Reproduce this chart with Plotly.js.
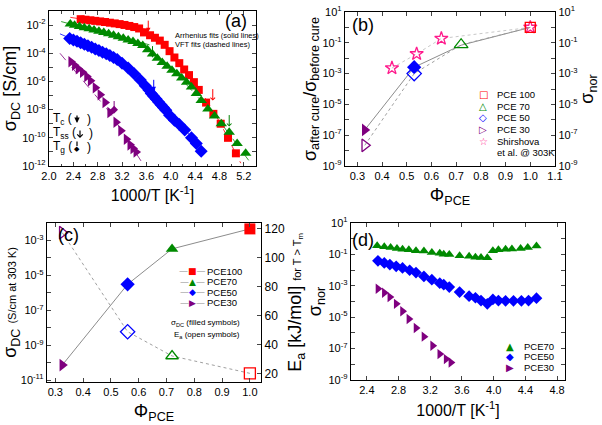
<!DOCTYPE html>
<html><head><meta charset="utf-8">
<script src="https://cdn.plot.ly/plotly-3.0.1.min.js"></script>
<style>body{margin:0;background:#fff}#chart{width:602px;height:425px}</style>
</head><body><div id="chart"></div>
<script>
// ===== Panel (a): 1000/T [1/K] vs log10(sigma_DC [S/cm]) =====
const aRedX   = [2.52,2.60,2.68,2.76,2.84,2.92,3.00,3.08,3.16,3.24,3.32,3.40,3.48,3.56,3.66,3.74,3.82,3.90,3.98,4.06,4.14,4.22,4.30,4.38,4.46,4.58,4.70,4.82,4.94,5.07];
const aRedLog = [-1.58,-1.62,-1.66,-1.70,-1.74,-1.78,-1.83,-1.88,-1.93,-1.99,-2.06,-2.14,-2.24,-2.52,-2.72,-2.90,-3.10,-3.40,-3.85,-4.30,-4.70,-5.15,-5.55,-6.05,-6.60,-7.50,-8.30,-9.00,-10.00,-11.10];
const aGreenX   = [2.35,2.42,2.50,2.58,2.66,2.74,2.82,2.90,2.98,3.06,3.14,3.22,3.30,3.38,3.46,3.54,3.62,3.70,3.78,3.86,3.94,4.02,4.10,4.18,4.26,4.34,4.42,4.50,4.61,4.72,4.83,4.96,5.09,5.23];
const aGreenLog = [-1.93,-2.02,-2.10,-2.18,-2.26,-2.35,-2.44,-2.53,-2.62,-2.72,-2.82,-2.93,-3.05,-3.17,-3.30,-3.45,-3.75,-4.05,-4.35,-4.65,-4.92,-5.20,-5.45,-5.75,-6.05,-6.40,-6.85,-7.35,-7.95,-8.45,-9.00,-9.60,-10.40,-11.10];
const aBlueX   = [2.34,2.40,2.46,2.52,2.58,2.64,2.70,2.76,2.82,2.88,2.94,3.00,3.06,3.12,3.20,3.30,3.40,3.50,3.58,3.64,3.68,3.72,3.76,3.80,3.84,3.88,3.92,3.98,4.06,4.14,4.23,4.34,4.42,4.50];
const aBlueLog = [-2.95,-3.05,-3.15,-3.26,-3.36,-3.47,-3.58,-3.69,-3.80,-3.92,-4.04,-4.16,-4.30,-4.45,-4.70,-5.05,-5.45,-5.90,-6.30,-6.60,-6.85,-7.05,-7.25,-7.45,-7.65,-7.85,-8.05,-8.40,-8.75,-9.05,-9.45,-10.00,-10.40,-10.95];
const aPurpleX   = [2.36,2.42,2.48,2.55,2.62,2.68,2.76,2.84,2.92,3.00,3.10,3.18,3.27,3.33,3.38,3.43];
const aPurpleLog = [-4.60,-4.85,-5.10,-5.35,-5.65,-5.95,-6.45,-6.95,-7.50,-8.20,-8.90,-9.50,-10.10,-10.50,-10.75,-11.00];
// fit lines (Arrhenius solid, VFT dashed)
const fitRedArrX = [2.35,3.60],  fitRedArrLog = [-1.45,-2.30];
const fitRedVftX = [3.60,3.90,4.20,4.50,4.80,5.15], fitRedVftLog = [-2.45,-3.30,-4.90,-6.70,-8.85,-11.80];
const fitGreenArrX = [2.20,3.65], fitGreenArrLog = [-1.75,-3.40];
const fitGreenVftX = [3.60,4.00,4.40,4.80,5.28], fitGreenVftLog = [-3.60,-5.00,-6.90,-8.80,-11.60];
const fitBlueVftX = [2.18,2.50,3.00,3.50,3.90,4.30,4.62], fitBlueVftLog = [-2.62,-3.20,-4.16,-5.90,-7.95,-9.75,-11.50];
const fitBlueArrX = [3.52,3.78], fitBlueArrLog = [-5.95,-6.95];
const fitPurpleX = [2.18,3.00,3.55], fitPurpleLog = [-4.00,-8.20,-11.90];
// characteristic temperatures (arrows)
const arrX    = [3.63, 4.69, 3.70, 4.96, 3.72];
const arrLog  = [-2.50, -7.36, -4.31, -9.20, -6.70];
const arrKind = ['c', 'ss', 'c', 'ss', 'c'];
const arrCol  = ['red', 'red', 'green', 'green', 'blue'];
const tgX = [3.07], tgLog = [-8.0];
const aYTickVals = [1e-12,1e-10,1e-8,1e-6,1e-4,1e-2];
const aYTickText = ['10<sup>-12</sup>','10<sup>-10</sup>','10<sup>-8</sup>','10<sup>-6</sup>','10<sup>-4</sup>','10<sup>-2</sup>'];
const aYMinor    = [1e-11,1e-9,1e-7,1e-5,1e-3,1e-1];

// ===== Panel (b): Phi_PCE vs normalized conductivity =====
const bFilledPhi = [0.33, 0.53];
const bFilledSig = [2.2e-7, 2.6e-3];
const bLinePhi   = [0.33, 0.53, 0.72, 1.00];
const bLineSig   = [2.2e-7, 2.6e-3, 0.07, 1.0];
const bOpenPhi   = [0.33, 0.53, 0.72, 1.00];
const bOpenSig   = [2.2e-8, 1.0e-3, 0.075, 1.0];
const bStarPhi   = [0.44, 0.54, 0.64, 1.00];
const bStarSig   = [2.3e-3, 1.9e-2, 0.19, 1.0];
const bYTickVals = [1e-9,1e-7,1e-5,1e-3,1e-1,10];
const bYTickText = ['10<sup>-9</sup>','10<sup>-7</sup>','10<sup>-5</sup>','10<sup>-3</sup>','10<sup>-1</sup>','10<sup>1</sup>'];
const bYMinor    = [1e-8,1e-6,1e-4,1e-2,1];

// ===== Panel (c): Phi_PCE vs sigma_DC at 303 K (filled) and Ea (open) =====
const cPhi   = [0.325, 0.56, 0.72, 1.00];
const cSigDC = [7.4e-11, 3.1e-6, 3.3e-4, 4.6e-3];
const cEa    = [117.3, 48.8, 32.0, 20.0];
const cYTickVals = [1e-11,1e-9,1e-7,1e-5,1e-3];
const cYTickText = ['10<sup>-11</sup>','10<sup>-9</sup>','10<sup>-7</sup>','10<sup>-5</sup>','10<sup>-3</sup>'];
const cYMinor    = [1e-10,1e-8,1e-6,1e-4,1e-2];

// ===== Panel (d): 1000/T vs sigma_nor =====
const dGreenX   = [2.53,2.62,2.70,2.78,2.85,2.93,3.02,3.12,3.22,3.32,3.37,3.44,3.57,3.69,3.77,3.84,3.92,3.99,4.06,4.15,4.23,4.34,4.43,4.54];
const dGreenLog = [-0.45,-0.52,-0.56,-0.62,-0.67,-0.71,-0.77,-0.79,-0.88,-0.92,-0.99,-1.00,-1.09,-1.12,-1.18,-1.20,-1.22,-0.77,-0.71,-0.67,-0.65,-0.62,-0.56,-0.47];
const dBlueX   = [2.54,2.62,2.69,2.77,2.85,2.94,3.02,3.12,3.22,3.32,3.37,3.44,3.57,3.69,3.77,3.84,3.92,3.99,4.06,4.15,4.25,4.35,4.44,4.54];
const dBlueLog = [-1.41,-1.54,-1.65,-1.76,-1.86,-2.01,-2.16,-2.40,-2.61,-2.83,-2.93,-3.08,-3.40,-3.66,-3.76,-3.94,-4.15,-3.87,-3.94,-3.96,-3.96,-3.96,-3.94,-3.79];
const dPurpleX   = [2.54,2.62,2.69,2.77,2.85,2.93,3.02,3.12,3.23,3.32,3.40,3.46];
const dPurpleLog = [-3.19,-3.44,-3.72,-4.15,-4.62,-5.11,-5.69,-6.24,-6.82,-7.35,-7.67,-7.89];
const dYTickVals = bYTickVals, dYTickText = bYTickText, dYMinor = bYMinor;

// ===== styling =====
const RED='#ff0000', GREEN='#008a00', BLUE='#0000ff', PURPLE='#7f007f', PINK='#ff1a8c', GREY='#8c8c8c';
const W=602, H=425;
const xd = (l,r) => [l/W, r/W];
const yd = (t,b) => [1-b/H, 1-t/H];
const p10 = a => a.map(v => Math.pow(10, v));
const FONT = 'Arial, "Liberation Sans", sans-serif';
const base = {ticks:'inside', ticklen:4, tickwidth:1, showline:true, linewidth:1.2, linecolor:'#000',
  showgrid:false, zeroline:false, tickfont:{size:11, family:FONT, color:'#000'}};
const ax = (o) => Object.assign({}, base, o);
const minorArr = (v) => ({tickmode:'array', tickvals:v, ticks:'inside', ticklen:4, tickwidth:1, showgrid:false});

const traces = [];
function sc(x, y, xa, ya, o){ traces.push(Object.assign({x:x, y:y, xaxis:xa, yaxis:ya, type:'scatter', showlegend:false, hoverinfo:'skip'}, o)); }
// (a) fit lines
sc(fitRedArrX, p10(fitRedArrLog), 'x','y', {mode:'lines', line:{color:RED, width:0.8}});
sc(fitRedVftX, p10(fitRedVftLog), 'x','y', {mode:'lines', line:{color:RED, width:0.8, dash:'dash'}});
sc(fitGreenArrX, p10(fitGreenArrLog), 'x','y', {mode:'lines', line:{color:GREEN, width:0.8}});
sc(fitGreenVftX, p10(fitGreenVftLog), 'x','y', {mode:'lines', line:{color:GREEN, width:0.8, dash:'dash'}});
sc(fitBlueVftX, p10(fitBlueVftLog), 'x','y', {mode:'lines', line:{color:BLUE, width:0.8, dash:'dash'}});
sc(fitBlueArrX, p10(fitBlueArrLog), 'x','y', {mode:'lines', line:{color:'#5f8cff', width:1}});
sc(fitPurpleX, p10(fitPurpleLog), 'x','y', {mode:'lines', line:{color:PURPLE, width:0.8, dash:'dash'}});
// (a) data
sc(aRedX, p10(aRedLog), 'x','y', {mode:'markers', marker:{symbol:'square', size:8, color:RED}});
sc(aGreenX, p10(aGreenLog), 'x','y', {mode:'markers', marker:{symbol:'triangle-up', size:10, color:GREEN}});
sc(aBlueX, p10(aBlueLog), 'x','y', {mode:'markers', marker:{symbol:'diamond', size:10, color:BLUE}});
sc(aPurpleX, p10(aPurpleLog), 'x','y', {mode:'markers', marker:{symbol:'triangle-right', size:10, color:PURPLE}});
sc(tgX, p10(tgLog), 'x','y', {mode:'markers', marker:{symbol:'diamond', size:6, color:PURPLE}});

// (b)
sc(bStarPhi, bStarSig, 'x2','y2', {mode:'lines', line:{color:'#c8c8c8', width:1, dash:'dot'}});
sc(bLinePhi, bLineSig, 'x2','y2', {mode:'lines', line:{color:GREY, width:1}});
sc(bOpenPhi, bOpenSig, 'x2','y5', {mode:'lines', line:{color:'#a0a0a0', width:1, dash:'dot'}});
sc([bOpenPhi[3]], [bOpenSig[3]], 'x2','y5', {mode:'markers', marker:{symbol:'square-open', size:10, color:RED, line:{width:1.3}}});
sc([bOpenPhi[2]], [bOpenSig[2]], 'x2','y5', {mode:'markers', marker:{symbol:'triangle-up-open', size:12, color:GREEN, line:{width:1.3}}});
sc([bOpenPhi[1]], [bOpenSig[1]], 'x2','y5', {mode:'markers', marker:{symbol:'diamond-open', size:11, color:BLUE, line:{width:1.3}}});
sc([bOpenPhi[0]], [bOpenSig[0]], 'x2','y5', {mode:'markers', marker:{symbol:'triangle-right-open', size:11, color:PURPLE, line:{width:1.3}}});
sc([bFilledPhi[1]], [bFilledSig[1]], 'x2','y2', {mode:'markers', marker:{symbol:'diamond', size:11, color:BLUE}});
sc([bFilledPhi[0]], [bFilledSig[0]], 'x2','y2', {mode:'markers', marker:{symbol:'triangle-right', size:11, color:PURPLE}});
sc(bStarPhi, bStarSig, 'x2','y2', {mode:'markers', marker:{symbol:'star-open', size:10, color:PINK, line:{width:1.3}}});

// (c)
sc(cPhi, cSigDC, 'x3','y3', {mode:'lines', line:{color:GREY, width:1}});
sc(cPhi, cEa, 'x3','y6', {mode:'lines', line:{color:'#a0a0a0', width:1, dash:'dot'}});
const cSym = ['triangle-right','diamond','triangle-up','square'];
const cCol = [PURPLE, BLUE, GREEN, RED];
for (let i=0;i<4;i++){
  sc([cPhi[i]], [cSigDC[i]], 'x3','y3', {mode:'markers', marker:{symbol:cSym[i], size:11, color:cCol[i]}});
  sc([cPhi[i]], [cEa[i]], 'x3','y6', {mode:'markers', marker:{symbol:cSym[i]+'-open', size:11, color:cCol[i], line:{width:1.3}}});
}

// (d)
sc(dGreenX, p10(dGreenLog), 'x4','y4', {mode:'markers', marker:{symbol:'triangle-up', size:9, color:GREEN}});
sc(dBlueX, p10(dBlueLog), 'x4','y4', {mode:'markers', marker:{symbol:'diamond', size:9, color:BLUE}});
sc(dPurpleX, p10(dPurpleLog), 'x4','y4', {mode:'markers', marker:{symbol:'triangle-right', size:9, color:PURPLE}});

// ===== annotations =====
const ann = [];
function txt(x, y, t, o){ ann.push(Object.assign({xref:'paper', yref:'paper', x:x/W, y:1-y/H, text:t, showarrow:false,
  font:{family:FONT, size:10, color:'#000'}, xanchor:'left', yanchor:'middle'}, o||{})); }
// arrows on panel (a)
for (let i=0;i<arrX.length;i++){
  ann.push({xref:'x', yref:'y', x:arrX[i], y:arrLog[i], ax:0, ay:-13, showarrow:true,
    arrowhead: arrKind[i]==='c' ? 2 : 4, arrowsize:0.9, arrowwidth:1, arrowcolor:arrCol[i], text:''});
}
ann.push({xref:'x', yref:'y', x:tgX[0], y:tgLog[0]+0.15, ax:0, ay:-8, showarrow:true, arrowhead:0, arrowwidth:1, arrowcolor:PURPLE, text:''});
txt(236, 21, '(a)', {font:{family:FONT, size:18}, xanchor:'center'});
txt(172.5, 35, 'Arrhenius fits (solid lines)', {font:{family:FONT, size:7.5}});
txt(172.5, 45, 'VFT fits (dashed lines)', {font:{family:FONT, size:7.5}});
txt(51, 119, 'T<sub>c</sub> (', {font:{family:FONT, size:12}});
txt(51, 133, 'T<sub>ss</sub> (', {font:{family:FONT, size:12}});
txt(51, 147, 'T<sub>g</sub> (', {font:{family:FONT, size:12}});
txt(85, 119, ')', {font:{family:FONT, size:12}});
txt(87, 133, ')', {font:{family:FONT, size:12}});
txt(85, 147, ')', {font:{family:FONT, size:12}});
ann.push({xref:'paper', yref:'paper', x:77/W, y:1-123/H, ax:0, ay:-9, showarrow:true, arrowhead:2, arrowsize:0.9, arrowwidth:1.2, arrowcolor:'#000', text:''});
ann.push({xref:'paper', yref:'paper', x:80/W, y:1-138/H, ax:0, ay:-9, showarrow:true, arrowhead:4, arrowsize:0.9, arrowwidth:1.2, arrowcolor:'#000', text:''});
ann.push({xref:'paper', yref:'paper', x:77/W, y:1-146/H, ax:0, ay:-6, showarrow:true, arrowhead:0, arrowwidth:1.2, arrowcolor:'#000', text:''});
txt(77, 149, '◆', {font:{family:'DejaVu Sans', size:7}, xanchor:'center'});
// panel (b)
txt(363, 25, '(b)', {font:{family:FONT, size:18}, xanchor:'center'});
const bLegSym = ['□','△','◇','▷','☆'];
const bLegCol = [RED, GREEN, BLUE, PURPLE, PINK];
const bLegTxt = ['PCE 100','PCE 70','PCE 50','PCE 30','Shirshova'];
const bLegY = [95, 106.5, 118, 129.5, 141];
for (let i=0;i<5;i++){
  txt(483, bLegY[i], bLegSym[i], {font:{family:'DejaVu Sans', size:10, color:bLegCol[i]}, xanchor:'center'});
  txt(495, bLegY[i], bLegTxt[i], {font:{family:FONT, size:9.5}});
}
txt(495, 152, 'et al. @ 303K', {font:{family:FONT, size:9.5}});
// panel (c)
txt(68, 235, '(c)', {font:{family:FONT, size:18}, xanchor:'center'});
const cLegSym = ['■','▲','◆','▶'];
const cLegCol = [RED, GREEN, BLUE, PURPLE];
const cLegTxt = ['PCE100','PCE70','PCE50','PCE30'];
const cLegY = [271, 281.5, 292, 302.5];
for (let i=0;i<4;i++){
  txt(192, cLegY[i], '<span style="color:#8c8c8c">—</span>' + '<span style="color:'+cLegCol[i]+'">'+cLegSym[i]+'</span>' + '<span style="color:#8c8c8c">—</span>', {font:{family:'DejaVu Sans', size:9}, xanchor:'center'});
  txt(205, cLegY[i], cLegTxt[i], {font:{family:FONT, size:9.5}});
}
txt(242, 323, 'σ<sub>DC</sub> (filled symbols)', {font:{family:FONT, size:8}, xanchor:'right'});
txt(242, 335, 'E<sub>a</sub> (open symbols)', {font:{family:FONT, size:8}, xanchor:'right'});
// panel (d)
txt(363, 240, '(d)', {font:{family:FONT, size:18}, xanchor:'center'});
const dLegSym = ['▲','◆','▶'];
const dLegCol = [GREEN, BLUE, PURPLE];
const dLegTxt = ['PCE70','PCE50','PCE30'];
const dLegY = [346, 356.5, 367];
for (let i=0;i<3;i++){
  txt(510, dLegY[i], dLegSym[i], {font:{family:'DejaVu Sans', size:10, color:dLegCol[i]}, xanchor:'center'});
  txt(522, dLegY[i], dLegTxt[i], {font:{family:FONT, size:9.5}});
}

const TF = (s) => ({family:FONT, size:s, color:'#000'});
const layout = {
  width:W, height:H, margin:{l:0,r:0,t:0,b:0}, paper_bgcolor:'#fff', plot_bgcolor:'#fff',
  font:{family:FONT, color:'#000'}, showlegend:false,
  xaxis: ax({domain:xd(49,256), range:[2.0,5.4], tick0:2.0, dtick:0.4, tickformat:'.1f', mirror:'ticks', anchor:'y',
    minor:{dtick:0.2, ticks:'inside', ticklen:2.5}, title:{text:'1000/T [K<sup>-1</sup>]', font:TF(16), standoff:8}}),
  yaxis: ax({domain:yd(11,166), type:'log', range:[-12,-1], tickmode:'array', tickvals:aYTickVals, ticktext:aYTickText, minor:minorArr(aYMinor), mirror:'ticks', anchor:'x',
    title:{text:'σ<sub>DC</sub> [S/cm]', font:TF(18), standoff:0}}),
  xaxis2: ax({domain:xd(345,555), range:[0.25,1.1], tick0:0.3, dtick:0.1, tickformat:'.1f', mirror:'ticks', anchor:'y2',
    title:{text:'Φ<sub>PCE</sub>', font:TF(18), standoff:7}}),
  yaxis2: ax({domain:yd(12,166), type:'log', range:[-9,1], tickmode:'array', tickvals:bYTickVals, ticktext:bYTickText, minor:minorArr(bYMinor), anchor:'x2',
    title:{text:'σ<sub>after cure</sub>/σ<sub>before cure</sub>', font:TF(18), standoff:0}}),
  yaxis5: ax({domain:yd(12,166), type:'log', range:[-9,1], tickmode:'array', tickvals:bYTickVals, ticktext:bYTickText, minor:minorArr(bYMinor), anchor:'x2',
    overlaying:'y2', side:'right', title:{text:'σ<sub>nor</sub>', font:TF(18), standoff:2}}),
  xaxis3: ax({domain:xd(47,261), range:[0.27,1.04], tick0:0.3, dtick:0.1, tickformat:'.1f', mirror:'ticks', anchor:'y3',
    title:{text:'Φ<sub>PCE</sub>', font:TF(18), standoff:7}}),
  yaxis3: ax({domain:yd(223,382), type:'log', range:[-11.1,-2], tickmode:'array', tickvals:cYTickVals, ticktext:cYTickText, minor:minorArr(cYMinor), anchor:'x3',
    title:{text:'σ<sub>DC</sub> <span style="font-size:11px">(S/cm at 303 K)</span>', font:TF(18), standoff:0}}),
  yaxis6: ax({domain:yd(223,382), range:[14,124], dtick:20, tick0:0, anchor:'x3', overlaying:'y3', side:'right',
    tickfont:{size:12, family:FONT, color:'#000'},
    title:{text:'E<sub>a</sub> [kJ/mol] <span style="font-size:11px">for T &gt; T<sub>m</sub></span>', font:TF(18), standoff:0}}),
  xaxis4: ax({domain:xd(351,565), range:[2.2,4.9], tick0:2.4, dtick:0.4, tickformat:'.1f', mirror:'ticks', anchor:'y4',
    title:{text:'1000/T [K<sup>-1</sup>]', font:TF(16), standoff:9}}),
  yaxis4: ax({domain:yd(223,380), type:'log', range:[-9,1], tickmode:'array', tickvals:dYTickVals, ticktext:dYTickText, minor:minorArr(dYMinor), mirror:'ticks', anchor:'x4',
    title:{text:'σ<sub>nor</sub>', font:TF(18), standoff:2}}),
  annotations: ann
};
Plotly.newPlot('chart', traces, layout, {staticPlot:true, displayModeBar:false});
</script></body></html>
